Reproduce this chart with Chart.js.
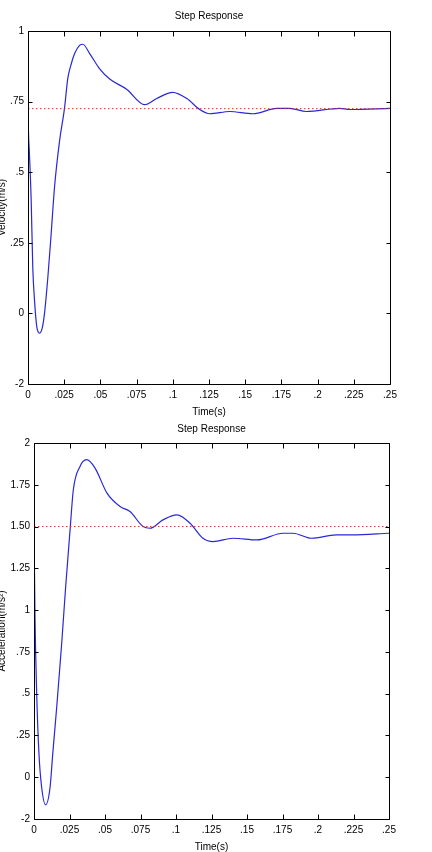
<!DOCTYPE html>
<html>
<head>
<meta charset="utf-8">
<script src="https://cdn.jsdelivr.net/npm/chart.js@4/dist/chart.umd.min.js"></script>
<style>
  body { margin: 0; background: #fff; width: 432px; height: 852px; overflow: hidden; position: relative; }
  canvas { position: absolute; left: 0; }
  #velocity-chart { top: 0; }
  #accel-chart { top: 420px; }
</style>
</head>
<body>
<canvas id="velocity-chart" width="432" height="420"></canvas>
<canvas id="accel-chart" width="432" height="432"></canvas>
<script>
// eixo do tempo (comum aos dois graficos)
const xTickValues = [0, 0.025, 0.05, 0.075, 0.1, 0.125, 0.15, 0.175, 0.2, 0.225, 0.25];
const xTickLabels = ['0', '.025', '.05', '.075', '.1', '.125', '.15', '.175', '.2', '.225', '.25'];

// grafico de velocidade
const velTickValues = [-2, 0, 0.25, 0.5, 0.75, 1];
const velTickLabels = ['-2', '0', '.25', '.5', '.75', '1'];
const velTime = [0, 0.0003, 0.0009, 0.0022, 0.0033, 0.0045, 0.0061, 0.008, 0.0098, 0.0114, 0.0137, 0.016, 0.0183,
  0.0218, 0.0252, 0.0275, 0.0299, 0.0322, 0.0356, 0.0379, 0.0426, 0.0495, 0.0564, 0.0681, 0.0806, 0.0889,
  0.0999, 0.1097, 0.1186, 0.1255, 0.1393, 0.1553, 0.1718, 0.1807, 0.1923, 0.2154, 0.2223, 0.25];
const velValue = [0.75, 0.646, 0.576, 0.40, 0.162, 0.046, -0.39, -0.56, -0.42, 0, 0.127, 0.282, 0.446,
  0.611, 0.726, 0.833, 0.884, 0.92, 0.949, 0.953, 0.92, 0.866, 0.83, 0.794, 0.739, 0.761,
  0.783, 0.761, 0.722, 0.707, 0.715, 0.707, 0.726, 0.726, 0.715, 0.726, 0.722, 0.726];
const velFinal = 0.725;

// grafico de aceleracao
const accTickValues = [-2, 0, 0.25, 0.5, 0.75, 1, 1.25, 1.5, 1.75, 2];
const accTickLabels = ['-2', '0', '.25', '.5', '.75', '1', '1.25', '1.50', '1.75', '2'];
const accTime = [0, 0.0007, 0.0019, 0.0035, 0.0054, 0.0082, 0.0113, 0.0132, 0.016, 0.0195, 0.0223, 0.0254,
  0.0277, 0.0324, 0.0371, 0.043, 0.0514, 0.0606, 0.0676, 0.0768, 0.0817, 0.0908, 0.1007, 0.1099, 0.119,
  0.1261, 0.1401, 0.157, 0.1754, 0.1824, 0.1954, 0.2127, 0.224, 0.25];
const accValue = [1.50, 0.96, 0.5, 0.14, -0.49, -1.32, -0.49, 0.14, 0.42, 0.80, 1.14, 1.48,
  1.72, 1.86, 1.90, 1.85, 1.70, 1.62, 1.59, 1.50, 1.49, 1.54, 1.57, 1.52, 1.43,
  1.41, 1.43, 1.42, 1.46, 1.46, 1.43, 1.45, 1.45, 1.46];
const accFinal = 1.5;

const fontFamily = "'Liberation Sans Narrow', 'Liberation Sans', Arial, sans-serif";
Chart.defaults.font.family = fontFamily;
Chart.defaults.color = '#000';

// o eixo y tem marcas igualmente espacadas mas com valores irregulares:
// converte o valor para a posicao (indice) entre as marcas
function toAxis(v, levels) {
  for (let i = 0; i < levels.length - 1; i++) {
    if (v <= levels[i + 1] || i === levels.length - 2) {
      return i + (v - levels[i]) / (levels[i + 1] - levels[i]);
    }
  }
  return 0;
}

// moldura e marcas para dentro, estilo MATLAB
const matlabFrame = {
  id: 'matlabFrame',
  afterDatasetsDraw(chart) {
    const { ctx, chartArea: a, scales } = chart;
    const L = Math.round(a.left) + 0.5, R = Math.round(a.right) + 0.5;
    const T = Math.round(a.top) + 0.5, B = Math.round(a.bottom) + 0.5;
    ctx.save();
    ctx.strokeStyle = '#000';
    ctx.lineWidth = 1;
    ctx.beginPath();
    ctx.rect(L, T, R - L, B - T);
    scales.x.ticks.forEach(t => {
      const px = Math.round(scales.x.getPixelForValue(t.value)) + 0.5;
      ctx.moveTo(px, B); ctx.lineTo(px, B - 5);
      ctx.moveTo(px, T); ctx.lineTo(px, T + 5);
    });
    scales.y.ticks.forEach(t => {
      const py = Math.round(scales.y.getPixelForValue(t.value)) + 0.5;
      ctx.moveTo(L, py); ctx.lineTo(L + 4, py);
      ctx.moveTo(R, py); ctx.lineTo(R - 4, py);
    });
    ctx.stroke();
    ctx.restore();
  }
};

function buildChart(id, cfg) {
  const ctx = document.getElementById(id).getContext('2d');
  const curve = cfg.time.map((t, i) => ({ x: t, y: toAxis(cfg.values[i], cfg.levels) }));
  const finalLine = [
    { x: xTickValues[0], y: toAxis(cfg.final, cfg.levels) },
    { x: xTickValues[xTickValues.length - 1], y: toAxis(cfg.final, cfg.levels) }
  ];
  return new Chart(ctx, {
    type: 'line',
    data: {
      datasets: [
        {
          data: finalLine,
          borderColor: 'rgb(235,40,40)',
          borderWidth: 1,
          borderDash: [1.5, 2.5],
          pointRadius: 0
        },
        {
          data: curve,
          borderColor: 'rgb(40,40,215)',
          borderWidth: 1.2,
          pointRadius: 0,
          cubicInterpolationMode: 'monotone'
        }
      ]
    },
    options: {
      responsive: false,
      animation: false,
      devicePixelRatio: 1,
      layout: { padding: { left: 0, right: cfg.padRight, top: 0, bottom: 0 } },
      plugins: {
        legend: { display: false },
        tooltip: { enabled: false },
        title: {
          display: true,
          text: 'Step Response',
          fullSize: false,
          color: '#000',
          font: { size: 10, lineHeight: 1, weight: 'normal' },
          padding: cfg.titlePad
        }
      },
      scales: {
        x: {
          type: 'linear',
          min: 0,
          max: 0.25,
          grid: { display: false, drawTicks: false },
          border: { display: false },
          afterBuildTicks: axis => { axis.ticks = xTickValues.map(v => ({ value: v })); },
          afterFit: axis => { axis.height = cfg.xHeight; },
          ticks: {
            autoSkip: false,
            maxRotation: 0,
            padding: 6,
            font: { size: 10, lineHeight: 1 },
            callback: (v, i) => xTickLabels[i]
          },
          title: {
            display: true,
            text: 'Time(s)',
            font: { size: 10, lineHeight: 1 },
            padding: { top: 0, bottom: cfg.xTitlePad }
          }
        },
        y: {
          type: 'linear',
          min: 0,
          max: cfg.levels.length - 1,
          grid: { display: false, drawTicks: false },
          border: { display: false },
          afterBuildTicks: axis => { axis.ticks = cfg.levels.map((v, i) => ({ value: i })); },
          afterFit: axis => { axis.width = cfg.yWidth; },
          ticks: {
            autoSkip: false,
            padding: 4,
            font: { size: 10, lineHeight: 1 },
            callback: (v, i) => cfg.labels[i]
          },
          title: {
            display: true,
            text: cfg.yTitle,
            font: { size: 10, lineHeight: 1 },
            padding: { top: -3, bottom: 0 }
          }
        }
      }
    },
    plugins: [matlabFrame]
  });
}

buildChart('velocity-chart', {
  time: velTime, values: velValue, final: velFinal,
  levels: velTickValues, labels: velTickLabels,
  yTitle: 'Velocity(m/s)',
  padRight: 42, yWidth: 28, xHeight: 36,
  titlePad: { top: 11, bottom: 10 }, xTitlePad: 3
});

buildChart('accel-chart', {
  time: accTime, values: accValue, final: accFinal,
  levels: accTickValues, labels: accTickLabels,
  yTitle: 'Acceleration(m/s\u00B2)',
  padRight: 43, yWidth: 34, xHeight: 33,
  titlePad: { top: 4, bottom: 9 }, xTitlePad: 0
});
</script>
</body>
</html>
